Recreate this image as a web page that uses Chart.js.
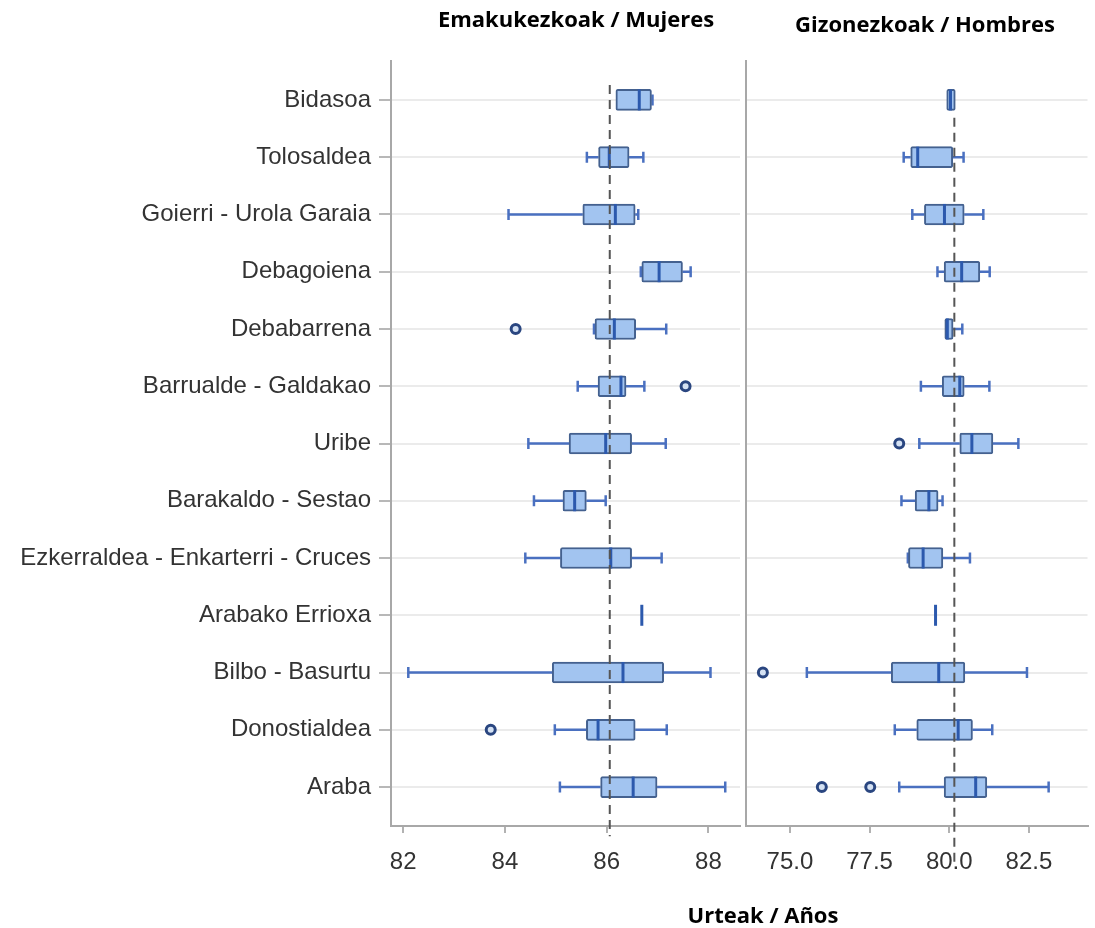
<!DOCTYPE html>
<html>
<head>
<meta charset="utf-8">
<script src="https://cdn.jsdelivr.net/npm/chart.js@4/dist/chart.umd.min.js"></script>
<style>
  html, body { margin: 0; padding: 0; background: #ffffff; }
  #wrap { position: relative; width: 1095px; height: 928px; }
  #wrap canvas { position: absolute; left: 0; top: 0; }
</style>
</head>
<body>
<div id="wrap">
  <canvas id="women" width="1095" height="928"></canvas>
  <canvas id="men" width="1095" height="928"></canvas>
</div>
<script>
// Health areas, top to bottom
const categories = [
  'Bidasoa', 'Tolosaldea', 'Goierri - Urola Garaia', 'Debagoiena', 'Debabarrena',
  'Barrualde - Galdakao', 'Uribe', 'Barakaldo - Sestao',
  'Ezkerraldea - Enkarterri - Cruces', 'Arabako Errioxa', 'Bilbo - Basurtu',
  'Donostialdea', 'Araba'
];

// Life expectancy, women: whisker low, Q1, median, Q3, whisker high
const womenLow  = [86.18, 85.61, 84.07, 86.67, 85.75, 85.43, 84.46, 84.57, 84.40, 86.69, 82.10, 84.98, 85.08];
const womenQ1   = [86.18, 85.84, 85.53, 86.69, 85.77, 85.83, 85.26, 85.14, 85.09, 86.69, 84.93, 85.60, 85.88];
const womenMed  = [86.64, 86.05, 86.17, 87.03, 86.15, 86.28, 85.98, 85.37, 86.08, 86.69, 86.32, 85.83, 86.52];
const womenQ3   = [86.88, 86.44, 86.56, 87.49, 86.57, 86.38, 86.49, 85.60, 86.49, 86.69, 87.12, 86.56, 86.99];
const womenHigh = [86.90, 86.72, 86.62, 87.65, 87.17, 86.74, 87.16, 85.98, 87.08, 86.69, 88.04, 87.18, 88.33];
// [area index, value]
const womenOutliers = [[4, 84.21], [5, 87.55], [11, 83.72]];
const womenOverall = 86.06;

// Life expectancy, men
const menLow  = [79.92, 78.57, 78.84, 79.63, 79.85, 79.11, 79.06, 78.50, 78.70, 79.57, 75.53, 78.29, 78.43];
const menQ1   = [79.92, 78.79, 79.22, 79.84, 79.86, 79.78, 80.33, 78.93, 78.72, 79.57, 78.18, 78.98, 79.84];
const menMed  = [80.04, 79.01, 79.85, 80.39, 79.94, 80.33, 80.71, 79.36, 79.18, 79.57, 79.67, 80.28, 80.83];
const menQ3   = [80.19, 80.11, 80.47, 80.96, 80.12, 80.47, 81.37, 79.65, 79.80, 79.57, 80.49, 80.73, 81.18];
const menHigh = [80.19, 80.45, 81.07, 81.27, 80.41, 81.26, 82.17, 79.79, 80.65, 79.57, 82.44, 81.35, 83.12];
const menOutliers = [[6, 78.43], [10, 74.15], [12, 76.00], [12, 77.52]];
const menOverall = 80.16;

// Axis ticks
const womenTicks = [82, 84, 86, 88];
const menTicks = [75.0, 77.5, 80.0, 82.5];

const titleWomen = 'Emakukezkoak / Mujeres';
const titleMen = 'Gizonezkoak / Hombres';
const axisTitle = 'Urteak / Años';

const BOX_FILL = '#a2c4f0';
const BOX_EDGE = '#44618f';
const WHISKER = '#4a70c0';
const MEDIAN = '#2c59ad';
const OUTLIER = '#2a4680';

// Whiskers under the boxes, medians and the overall reference line on top
function boxPlotPlugin(stats) {
  return {
    id: 'boxWhiskers',
    beforeDatasetsDraw(chart) {
      const { ctx, scales: { x, y } } = chart;
      const cap = 11;
      ctx.save();
      ctx.strokeStyle = WHISKER;
      ctx.lineWidth = 2.5;
      stats.q1.forEach((q1, i) => {
        const yc = y.getPixelForValue(i);
        const pl = x.getPixelForValue(stats.low[i]);
        const p1 = x.getPixelForValue(q1);
        const p3 = x.getPixelForValue(stats.q3[i]);
        const ph = x.getPixelForValue(stats.high[i]);
        ctx.beginPath();
        if (pl < p1 - 0.5) {
          ctx.moveTo(pl, yc); ctx.lineTo(p1, yc);
          ctx.moveTo(pl, yc - cap / 2); ctx.lineTo(pl, yc + cap / 2);
        }
        if (ph > p3 + 0.5) {
          ctx.moveTo(p3, yc); ctx.lineTo(ph, yc);
          ctx.moveTo(ph, yc - cap / 2); ctx.lineTo(ph, yc + cap / 2);
        }
        ctx.stroke();
      });
      ctx.restore();
    },
    afterDatasetsDraw(chart) {
      const { ctx, scales: { x, y } } = chart;
      const half = 10.5;
      ctx.save();
      ctx.strokeStyle = MEDIAN;
      ctx.lineWidth = 3;
      stats.med.forEach((m, i) => {
        const yc = y.getPixelForValue(i);
        const px = x.getPixelForValue(m);
        ctx.beginPath();
        ctx.moveTo(px, yc - half);
        ctx.lineTo(px, yc + half);
        ctx.stroke();
      });
      // overall reference value
      const rx = x.getPixelForValue(stats.ref);
      ctx.strokeStyle = '#555555';
      ctx.lineWidth = 2;
      ctx.setLineDash([9, 6]);
      ctx.beginPath();
      ctx.moveTo(rx, y.getPixelForValue(stats.refFrom));
      ctx.lineTo(rx, y.getPixelForValue(stats.refTo));
      ctx.stroke();
      ctx.restore();
    }
  };
}

// Panel titles and the shared axis title
const headingsPlugin = {
  id: 'headings',
  afterDraw(chart) {
    const ctx = chart.ctx;
    ctx.save();
    ctx.fillStyle = '#000000';
    ctx.font = 'bold 22px "Open Sans"';
    ctx.textAlign = 'center';
    ctx.textBaseline = 'alphabetic';
    ctx.fillText(titleWomen, 576, 27);
    ctx.fillText(titleMen, 925, 32);
    ctx.fillText(axisTitle, 763, 923);
    ctx.restore();
  }
};

function makeChart(id, cfg) {
  const boxes = cfg.q1.map((q1, i) => ({ x: [q1, cfg.q3[i]], y: i }));
  const outliers = cfg.outliers.map(([i, v]) => ({ x: v, y: i }));
  const plugins = [boxPlotPlugin(cfg)];
  if (cfg.headings) plugins.push(headingsPlugin);
  return new Chart(document.getElementById(id), {
    type: 'bar',
    data: {
      datasets: [
        {
          type: 'bar',
          data: boxes,
          backgroundColor: BOX_FILL,
          borderColor: BOX_EDGE,
          borderWidth: 2,
          borderSkipped: false,
          borderRadius: 2,
          barThickness: 21
        },
        {
          type: 'scatter',
          data: outliers,
          pointRadius: 4.5,
          pointBorderWidth: 3,
          borderColor: OUTLIER,
          backgroundColor: '#d4e1f3',
          pointStyle: 'circle'
        }
      ]
    },
    options: {
      indexAxis: 'y',
      responsive: false,
      animation: false,
      layout: { padding: cfg.padding },
      plugins: {
        legend: { display: false },
        tooltip: { enabled: false },
        title: { display: false }
      },
      scales: {
        x: {
          type: 'linear',
          min: cfg.xMin,
          max: cfg.xMax,
          afterBuildTicks: (s) => { s.ticks = cfg.ticks.map(v => ({ value: v })); },
          afterFit: (s) => { s.height = 102; },
          ticks: {
            callback: cfg.tickFormat,
            color: '#333333',
            font: { family: '"Liberation Sans", Arial, sans-serif', size: 24 },
            padding: 15,
            maxRotation: 0,
            autoSkip: false
          },
          grid: {
            drawOnChartArea: false,
            drawTicks: true,
            tickLength: 7,
            tickColor: '#b2b2b2',
            lineWidth: 2
          },
          border: { display: true, color: '#a8a8a8', width: 2 }
        },
        y: {
          type: 'linear',
          reverse: true,
          offset: false,
          min: -0.68,
          max: categories.length - 1 + 0.68,
          afterBuildTicks: (s) => { s.ticks = categories.map((_, i) => ({ value: i })); },
          afterFit: (s) => { s.width = cfg.axisLeft; },
          ticks: {
            display: cfg.showLabels,
            callback: (v) => categories[v],
            color: '#333333',
            font: { family: '"Liberation Sans", Arial, sans-serif', size: 24 },
            padding: 8,
            autoSkip: false
          },
          grid: {
            offset: false,
            color: '#ebebeb',
            lineWidth: 2,
            drawTicks: cfg.showLabels,
            tickLength: cfg.showLabels ? 12 : 0,
            tickColor: '#b8b8b8'
          },
          border: { display: true, color: '#a8a8a8', width: 2 }
        }
      }
    },
    plugins
  });
}

makeChart('women', {
  low: womenLow, q1: womenQ1, med: womenMed, q3: womenQ3, high: womenHigh,
  outliers: womenOutliers, ref: womenOverall, refFrom: -0.26, refTo: 12.86,
  xMin: 81.76, xMax: 88.62, ticks: womenTicks,
  tickFormat: (v) => String(v),
  axisLeft: 391, showLabels: true, headings: true,
  padding: { top: 61, right: 355, left: 0, bottom: 0 }
});

makeChart('men', {
  low: menLow, q1: menQ1, med: menMed, q3: menQ3, high: menHigh,
  outliers: menOutliers, ref: menOverall, refFrom: 0.31, refTo: 13.31,
  xMin: 73.62, xMax: 84.34, ticks: menTicks,
  tickFormat: (v) => Number(v).toFixed(1),
  axisLeft: 746, showLabels: false, headings: false,
  padding: { top: 61, right: 3, left: 0, bottom: 0 }
});
</script>
</body>
</html>
